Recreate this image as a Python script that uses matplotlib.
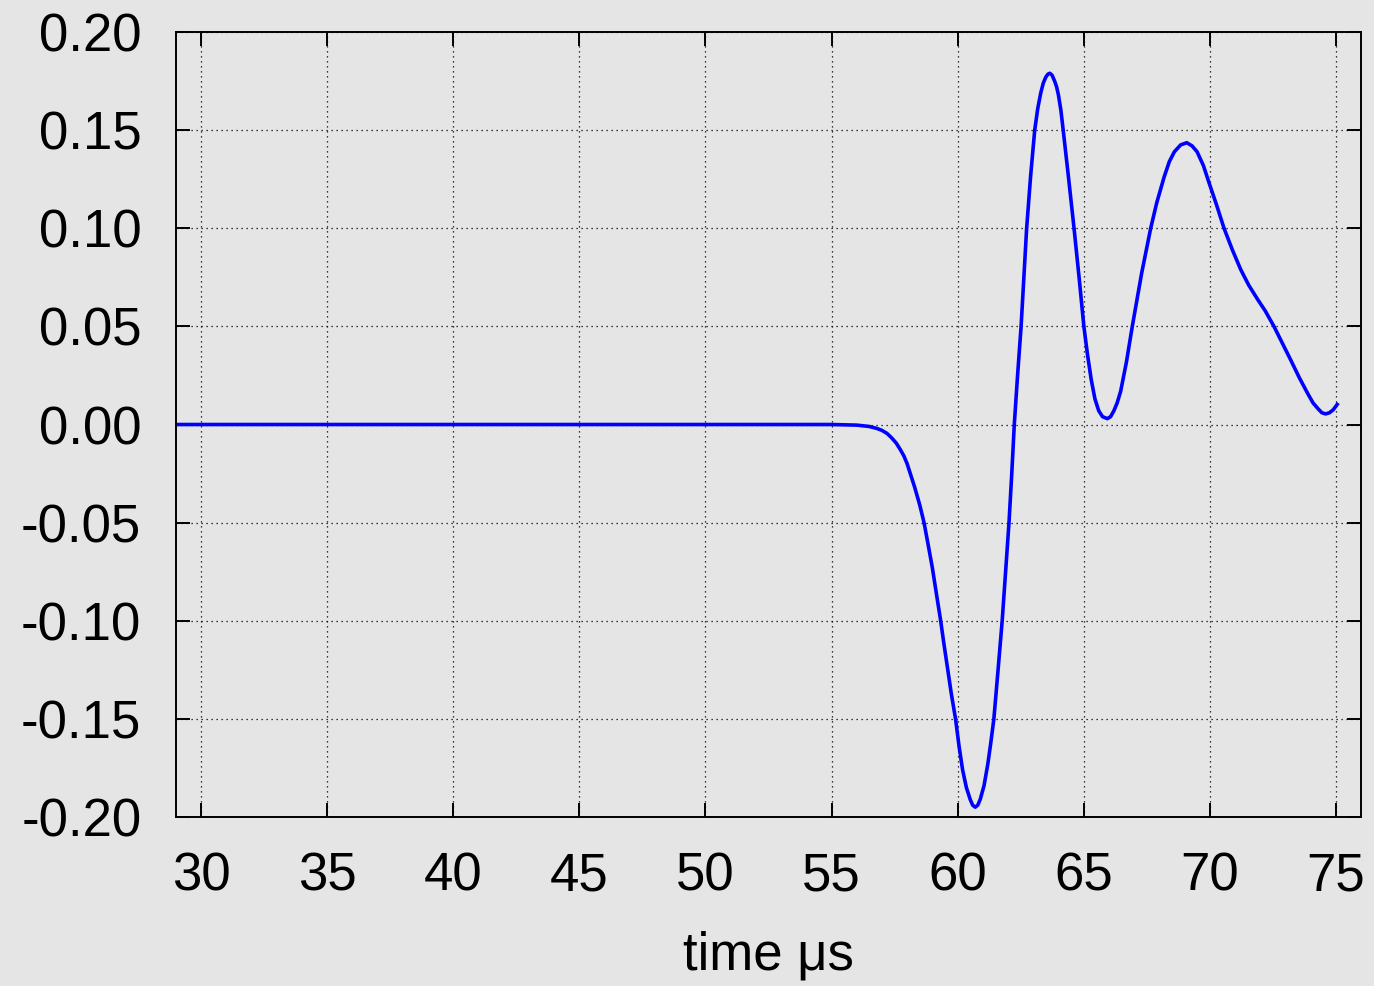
import numpy as np
import matplotlib
matplotlib.use("Agg")
import matplotlib.pyplot as plt

plt.rcParams['font.family'] = ['Liberation Sans', 'DejaVu Sans']

# sampled waveform: time in microseconds, amplitude
time_us = [29.0, 35.0, 40.0, 45.0, 50.0, 55.0, 56.0, 56.5, 56.8, 57.0,
           57.2, 57.4, 57.57, 57.74, 57.87, 58.0, 58.15, 58.3, 58.5, 58.67,
           58.83, 59.0, 59.17, 59.33, 59.45, 59.6, 59.75, 59.92, 60.06, 60.2,
           60.35, 60.5, 60.6, 60.7, 60.8, 60.9, 61.05, 61.2, 61.32, 61.44,
           61.6, 61.77, 61.9, 62.04, 62.15, 62.25, 62.38, 62.52, 62.63, 62.74,
           62.9, 63.06, 63.18, 63.3, 63.4, 63.5, 63.58, 63.66, 63.75, 63.85,
           63.93, 64.0, 64.1, 64.19, 64.4, 64.62, 64.82, 65.01, 65.15, 65.3,
           65.45, 65.6, 65.75, 65.94, 66.07, 66.2, 66.33, 66.47, 66.7, 66.93,
           67.3, 67.66, 67.9, 68.19, 68.4, 68.6, 68.85, 69.09, 69.3, 69.5,
           69.75, 69.98, 70.27, 70.57, 70.9, 71.23, 71.55, 71.89, 72.2, 72.55,
           72.9, 73.21, 73.55, 73.88, 74.1, 74.3, 74.45, 74.6, 74.75, 74.9,
           75.1]
amplitude = [0.0, 0.0, 0.0, 0.0, 0.0, 0.0, -0.0003, -0.001, -0.002, -0.003,
             -0.0045, -0.007, -0.0095, -0.013, -0.016, -0.020, -0.026, -0.032, -0.041, -0.050,
             -0.061, -0.073, -0.087, -0.100, -0.111, -0.124, -0.137, -0.150, -0.164, -0.176,
             -0.185, -0.191, -0.194, -0.195, -0.194, -0.191, -0.184, -0.173, -0.162, -0.150,
             -0.126, -0.100, -0.076, -0.050, -0.025, 0.000, 0.025, 0.050, 0.075, 0.100,
             0.127, 0.150, 0.161, 0.169, 0.174, 0.177, 0.1785, 0.179, 0.178, 0.175,
             0.172, 0.168, 0.160, 0.150, 0.126, 0.100, 0.075, 0.050, 0.036, 0.023,
             0.013, 0.007, 0.004, 0.003, 0.004, 0.007, 0.011, 0.017, 0.032, 0.050,
             0.077, 0.100, 0.113, 0.126, 0.134, 0.139, 0.1425, 0.1436, 0.142, 0.139,
             0.132, 0.123, 0.112, 0.100, 0.089, 0.079, 0.071, 0.064, 0.058, 0.050,
             0.041, 0.033, 0.024, 0.016, 0.011, 0.008, 0.006, 0.0054, 0.006, 0.0075,
             0.011]

xticks = np.arange(30, 76, 5)
yticks = [-0.20, -0.15, -0.10, -0.05, 0.00, 0.05, 0.10, 0.15, 0.20]

bg = '#e5e5e5'
fig = plt.figure(figsize=(13.74, 9.86), dpi=100, facecolor=bg)
ax = fig.add_axes([0.1281, 0.1714, 0.8624, 0.7961], facecolor=bg)

ax.plot(time_us, amplitude, color='#0000ff', linewidth=2.6,
        solid_joinstyle='round', solid_capstyle='butt')

ax.set_xlim(29, 76)
ax.set_ylim(-0.20, 0.20)
ax.set_xticks(xticks)
ax.set_yticks(yticks)
ax.set_yticklabels(['%.2f' % v for v in yticks])

ax.grid(True, color='black', linestyle=(0, (1, 3)), linewidth=0.9)
ax.tick_params(direction='in', length=10, width=1.4, top=True, right=True,
               labelsize=38, colors='black')
ax.tick_params(axis='y', pad=25)
ax.tick_params(axis='x', pad=25)
for s in ax.spines.values():
    s.set_linewidth(1.4)

ax.set_xlabel('time \u03bcs', fontsize=38, labelpad=21)

fig.savefig('out.png', dpi=100, facecolor=bg)
